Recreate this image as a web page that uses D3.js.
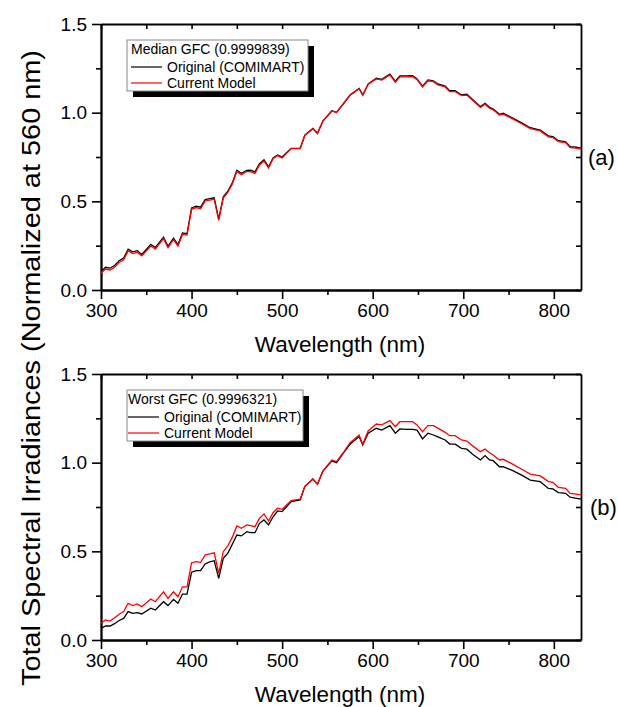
<!DOCTYPE html>
<html>
<head>
  <title>Total Spectral Irradiances</title>
  <script src="https://d3js.org/d3.v7.min.js"></script>
</head>
<body style="margin:0;background:#fff;">
  <style>
    text { font-family: Arial, "Liberation Sans", sans-serif; }
    .tick text { font-size: 19px; }
    .domain { stroke-width: 1.8px; }
    .tick line { stroke-width: 1.6px; }
  </style>

  <svg id="chart"></svg>

  <script>
    // wavelengths (nm)
    var wavelength = [300, 305, 310, 315, 320, 325, 330, 335, 340, 345, 355, 360, 369, 374, 380, 385, 390, 395,
      400, 405, 410, 415, 420, 425, 430, 435, 440, 445, 450, 455, 461, 465, 470, 475, 480, 485, 490, 495, 500,
      510, 520, 525, 534, 539, 545, 555, 560, 567, 575, 585, 589, 595, 604, 610, 619, 625, 630, 637, 644, 649,
      655, 661, 667, 672, 680, 685, 691, 698, 704, 710, 719, 724, 729, 733, 740, 744, 753, 764, 774, 785, 794,
      799, 805, 813, 818, 825, 830];

    // (a) median GFC
    var medianOriginal = [0.105, 0.128, 0.123, 0.138, 0.165, 0.180, 0.230, 0.215, 0.222, 0.200, 0.257, 0.240, 0.298, 0.246, 0.292, 0.256, 0.322, 0.318,
      0.463, 0.473, 0.467, 0.510, 0.515, 0.520, 0.400, 0.525, 0.557, 0.604, 0.675, 0.658, 0.675, 0.676, 0.666, 0.712, 0.734, 0.694, 0.745, 0.762, 0.750,
      0.799, 0.799, 0.873, 0.911, 0.884, 0.953, 1.011, 1.002, 1.046, 1.100, 1.137, 1.100, 1.162, 1.194, 1.188, 1.217, 1.177, 1.207, 1.207, 1.209, 1.190,
      1.150, 1.185, 1.180, 1.162, 1.150, 1.124, 1.124, 1.100, 1.104, 1.076, 1.034, 1.053, 1.030, 1.021, 0.991, 0.997, 0.974, 0.944, 0.915, 0.902, 0.869,
      0.865, 0.842, 0.836, 0.808, 0.805, 0.799];
    var medianModel = [0.095, 0.118, 0.113, 0.128, 0.155, 0.170, 0.220, 0.205, 0.213, 0.192, 0.248, 0.230, 0.290, 0.238, 0.284, 0.248, 0.314, 0.310,
      0.455, 0.465, 0.458, 0.502, 0.507, 0.512, 0.393, 0.518, 0.550, 0.598, 0.668, 0.650, 0.668, 0.668, 0.658, 0.705, 0.728, 0.688, 0.740, 0.758, 0.745,
      0.797, 0.797, 0.872, 0.910, 0.882, 0.952, 1.010, 1.000, 1.045, 1.098, 1.135, 1.098, 1.160, 1.190, 1.184, 1.213, 1.172, 1.202, 1.202, 1.204, 1.186,
      1.145, 1.180, 1.175, 1.157, 1.145, 1.119, 1.119, 1.096, 1.099, 1.071, 1.029, 1.048, 1.025, 1.016, 0.986, 0.992, 0.969, 0.939, 0.910, 0.897, 0.864,
      0.860, 0.837, 0.831, 0.803, 0.800, 0.794];

    // (b) worst GFC
    var worstOriginal = [0.066, 0.079, 0.079, 0.092, 0.110, 0.122, 0.160, 0.150, 0.154, 0.147, 0.179, 0.169, 0.216, 0.194, 0.229, 0.207, 0.259, 0.259,
      0.382, 0.391, 0.391, 0.429, 0.440, 0.447, 0.348, 0.461, 0.489, 0.540, 0.592, 0.587, 0.611, 0.605, 0.605, 0.658, 0.677, 0.649, 0.695, 0.728, 0.724,
      0.780, 0.790, 0.865, 0.908, 0.878, 0.953, 1.010, 1.000, 1.050, 1.104, 1.147, 1.100, 1.166, 1.194, 1.184, 1.209, 1.166, 1.190, 1.188, 1.188, 1.184,
      1.134, 1.166, 1.156, 1.145, 1.128, 1.105, 1.104, 1.081, 1.076, 1.049, 1.015, 1.040, 1.015, 1.011, 0.977, 0.977, 0.959, 0.931, 0.902, 0.893, 0.855,
      0.852, 0.831, 0.827, 0.805, 0.799, 0.794];
    var worstModel = [0.094, 0.113, 0.107, 0.126, 0.145, 0.160, 0.207, 0.194, 0.203, 0.188, 0.231, 0.216, 0.272, 0.235, 0.272, 0.244, 0.300, 0.300,
      0.436, 0.442, 0.438, 0.479, 0.485, 0.492, 0.376, 0.498, 0.530, 0.580, 0.643, 0.630, 0.649, 0.645, 0.639, 0.686, 0.711, 0.671, 0.718, 0.743, 0.737,
      0.786, 0.795, 0.865, 0.908, 0.878, 0.953, 1.015, 1.006, 1.053, 1.113, 1.156, 1.104, 1.179, 1.218, 1.213, 1.237, 1.203, 1.231, 1.231, 1.231, 1.213,
      1.175, 1.209, 1.209, 1.195, 1.171, 1.152, 1.152, 1.128, 1.122, 1.096, 1.062, 1.077, 1.056, 1.043, 1.015, 1.019, 0.996, 0.964, 0.936, 0.925, 0.893,
      0.889, 0.861, 0.855, 0.827, 0.823, 0.818];

    var xMajorTicks = [300, 400, 500, 600, 700, 800];
    var xMinorTicks = [350, 450, 550, 650, 750];
    var yMajorTicks = [0.0, 0.5, 1.0, 1.5];
    var yMinorTicks = [0.25, 0.75, 1.25];
    var seriesNames = ["Original (COMIMART)", "Current Model"];

    var width = 618, height = 707;
    var svg = d3.select("#chart").attr("width", width).attr("height", height);

    var x = d3.scaleLinear().domain([300, 830]).range([101, 581]);

    function drawPanel(top, title, original, model, tag, tagX, legendW, pad) {
      var y = d3.scaleLinear().domain([0, 1.5]).range([top + 266, top]);
      var bottom = top + 266;
      var g = svg.append("g");

      // axes
      g.append("g").attr("transform", "translate(0," + bottom + ")")
        .call(d3.axisBottom(x).tickValues(xMajorTicks).tickSizeInner(9).tickSizeOuter(0).tickPadding(5));
      g.append("g").attr("transform", "translate(0," + bottom + ")")
        .call(d3.axisBottom(x).tickValues(xMinorTicks).tickSizeInner(5).tickSizeOuter(0).tickFormat(""));
      g.append("g").attr("transform", "translate(0," + top + ")")
        .call(d3.axisTop(x).tickValues(xMajorTicks.concat(xMinorTicks)).tickSizeInner(-5).tickSizeOuter(0).tickFormat(""));

      g.append("g").attr("transform", "translate(101,0)")
        .call(d3.axisLeft(y).tickValues(yMajorTicks).tickSizeInner(9).tickSizeOuter(0).tickPadding(5).tickFormat(d3.format(".1f")));
      g.append("g").attr("transform", "translate(101,0)")
        .call(d3.axisLeft(y).tickValues(yMinorTicks).tickSizeInner(5).tickSizeOuter(0).tickFormat(""));
      g.append("g").attr("transform", "translate(581,0)")
        .call(d3.axisRight(y).tickValues(yMajorTicks.concat(yMinorTicks)).tickSizeInner(-5).tickSizeOuter(0).tickFormat(""));

      g.selectAll(".tick text").style("font-size", "19px").attr("fill", "#000");

      // curves
      var line = d3.line().x(function(d, i) { return x(wavelength[i]); }).y(function(d) { return y(d); });
      g.append("path").datum(original).attr("d", line)
        .attr("fill", "none").attr("stroke", "#000").attr("stroke-width", 1.3);
      g.append("path").datum(model).attr("d", line)
        .attr("fill", "none").attr("stroke", "#ff0000").attr("stroke-width", 1.3);

      // legend with drop shadow
      var lx = 127, ly = top + 16, lh = 51;
      g.append("rect").attr("x", lx + 6).attr("y", ly + 6).attr("width", legendW).attr("height", lh).attr("fill", "#000");
      g.append("rect").attr("x", lx).attr("y", ly).attr("width", legendW).attr("height", lh)
        .attr("fill", "#fff").attr("stroke", "#888").attr("stroke-width", 1);
      g.append("text").attr("x", lx + pad).attr("y", ly + 14).style("font-size", "14px").text(title);
      var colors = ["#000", "#ff0000"];
      seriesNames.forEach(function(name, i) {
        var yy = ly + 27 + i * 16;
        g.append("line").attr("x1", lx + pad).attr("x2", lx + pad + 31).attr("y1", yy).attr("y2", yy)
          .attr("stroke", colors[i]).attr("stroke-width", 1.2);
        g.append("text").attr("x", lx + pad + 36).attr("y", yy + 5).style("font-size", "14px").text(name);
      });

      // x title
      g.append("text").attr("x", 340).attr("y", bottom + 62).attr("text-anchor", "middle")
        .style("font-size", "22.5px").text("Wavelength (nm)");

      // panel tag
      g.append("text").attr("x", tagX).attr("y", top + 141).style("font-size", "22px").text(tag);
    }

    drawPanel(24, "Median GFC (0.9999839)", medianOriginal, medianModel, "(a)", 588, 181, 4);
    drawPanel(374, "Worst GFC (0.9996321)", worstOriginal, worstModel, "(b)", 590, 176, 1);

    svg.append("text")
      .attr("transform", "translate(40,368) rotate(-90)")
      .attr("text-anchor", "middle")
      .attr("textLength", 636)
      .attr("lengthAdjust", "spacingAndGlyphs")
      .style("font-size", "25px")
      .text("Total Spectral Irradiances (Normalized at 560 nm)");
  </script>
</body>
</html>
